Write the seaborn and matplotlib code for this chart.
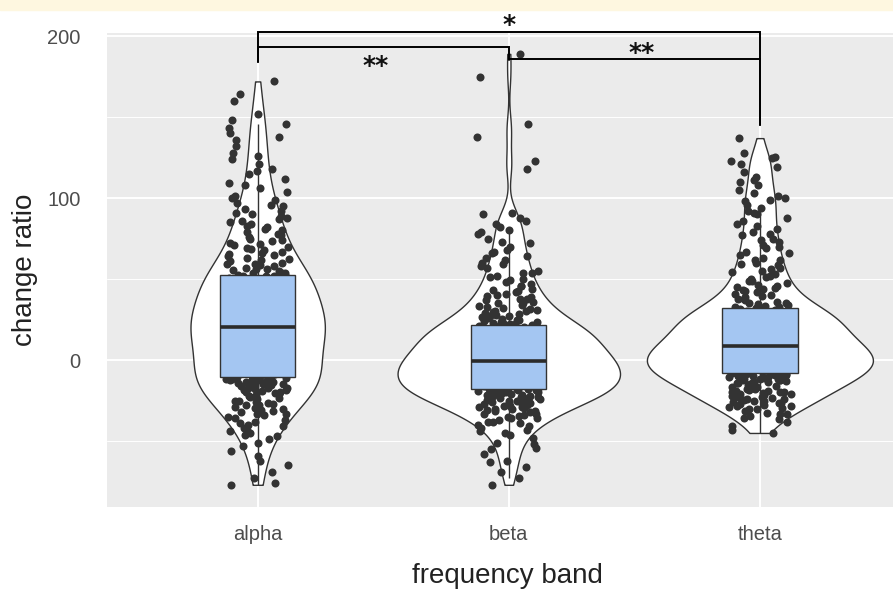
import numpy as np
import pandas as pd
import seaborn as sns
import matplotlib.pyplot as plt
from matplotlib.patches import Rectangle

# ---------------- data ----------------
bands = ["alpha", "beta", "theta"]

alpha_vals = [
    -77, -76, -73, -69, -65, -62, -59, -56, -53, -51,
    -49, -47, -45, -44, -42, -41, -39, -38, -37, -35,
    -34, -33, -32, -31, -30, -29, -28, -27, -26.5, -26,
    -25, -24, -23, -22.5, -22, -21, -20.5, -20, -19, -18.5,
    -18, -17.5, -17, -16.5, -16, -15.5, -15, -14.5, -14, -13.5,
    -13.2, -13, -12.7, -12.4, -12.1, -11.8, -11.5, -11.2, -10.9, -10.6,
    -11.0, -11.6, -12.3, -13.7, -14.8, -16.2, -17.3, -18.2, -19.6, -21.5,
    -23.5, -25.5, -27.5, -29.5, -31.5, -33.5, -36, -40, -43, -46,
    -10.4, -9.7, -9.1, -8.6, -7.9, -7.3, -6.8, -6.1, -5.5, -5.0,
    -4.3, -3.8, -3.1, -2.6, -2.0, -1.4, -0.9, -0.2, 0.4, 0.9,
    1.5, 2.0, 2.7, 3.2, 3.8, 4.4, 4.9, 5.6, 6.1, 6.7,
    7.2, 7.9, 8.4, 9.0, 9.5, 10.2, 10.7, 11.3, 11.8, 12.5,
    13.0, 13.6, 14.1, 14.8, 15.3, 15.9, 16.4, 17.1, 17.6, 18.2,
    18.7, 19.1, 19.4, 19.6, 19.8, 19.9, 20.0, 20.1, 20.2, 20.3,
    -9.4, -7.6, -5.7, -4.0, -2.3, -0.5, 1.2, 2.9, 4.6, 6.4,
    8.1, 9.8, 11.5, 13.3, 15.0, 16.7, 18.4, 19.2, 19.7, 20.25,
    20.5, 21.0, 21.6, 22.1, 22.7, 23.2, 23.8, 24.3, 24.9, 25.4,
    26.0, 26.5, 27.1, 27.6, 28.2, 28.7, 29.3, 29.8, 30.4, 30.9,
    31.5, 32.0, 32.6, 33.1, 33.7, 34.2, 34.8, 35.3, 35.9, 36.4,
    37.0, 37.6, 38.1, 38.7, 39.3, 39.8, 40.4, 41.0, 41.5, 42.1,
    42.7, 43.3, 43.8, 44.4, 45.0, 45.6, 46.1, 46.7, 47.3, 47.9,
    48.4, 49.0, 49.5, 50.0, 50.5, 50.9, 51.3, 51.7, 52.0, 52.3,
    21.3, 22.9, 24.6, 26.2, 27.9, 29.5, 31.2, 32.8, 34.5, 36.1,
    37.8, 39.5, 41.2, 42.9, 44.6, 46.4, 48.1, 49.8, 51.1, 52.2,
    53, 53.5, 54, 55, 55.5, 56, 57, 58, 58.5, 59,
    60, 61, 62, 63, 64, 65, 66, 67, 68, 69,
    70, 71, 72, 73.5, 75, 76, 77.5, 79, 80, 82,
    83, 85, 86, 88, 90, 91, 93, 95, 97, 99,
    101, 104, 106, 109, 112, 115, 118, 121, 124, 128,
    132, 136, 140, 143, 146, 148, 152, 160, 164, 172,
    53.8, 56.5, 59.5, 62.5, 65.5, 68.5, 71.5, 74, 78, 81,
    84, 87, 89, 92, 96, 100, 108, 117, 126, 138,
]

beta_vals = [
    -77, -73, -69, -66, -63, -62, -58, -55, -54, -51,
    -48, -46, -44, -43, -42, -41, -40, -39, -38, -37,
    -36, -35, -34.5, -34, -33, -32, -31.5, -31, -30.5, -30,
    -29.5, -29, -28.5, -28, -27.5, -27, -26.5, -26, -25.5, -25,
    -24.5, -24, -23.5, -23, -22.5, -22, -21.7, -21.4, -21, -20.6,
    -20.2, -19.8, -19.5, -19.2, -18.9, -18.6, -18.4, -18.2, -18, -17.9,
    -18.3, -18.7, -19.4, -20.0, -20.8, -21.6, -22.3, -23.2, -24.2, -25.2,
    -26.2, -27.2, -28.2, -29.2, -31.2, -33.5, -35.5, -38, -45, -52,
    -17.8, -17.5, -17.2, -16.9, -16.6, -16.3, -16.0, -15.7, -15.4, -15.1,
    -14.8, -14.5, -14.2, -13.9, -13.6, -13.3, -13.0, -12.7, -12.4, -12.1,
    -11.8, -11.5, -11.2, -10.9, -10.6, -10.3, -10.0, -9.7, -9.4, -9.1,
    -8.8, -8.5, -8.2, -7.9, -7.6, -7.3, -7.0, -6.7, -6.4, -6.1,
    -5.8, -5.5, -5.2, -4.9, -4.6, -4.3, -4.0, -3.7, -3.4, -3.1,
    -2.8, -2.5, -2.2, -1.9, -1.6, -1.4, -1.2, -1.0, -0.8, -0.7,
    -17.0, -16.1, -15.2, -14.3, -13.4, -12.5, -11.6, -10.7, -9.8, -8.9,
    -8.0, -7.1, -6.2, -5.3, -4.4, -3.5, -2.6, -1.7, -1.1, -0.9,
    -0.5, -0.1, 0.3, 0.6, 1.0, 1.4, 1.7, 2.1, 2.5, 2.8,
    3.2, 3.6, 3.9, 4.3, 4.7, 5.0, 5.4, 5.8, 6.1, 6.5,
    6.9, 7.2, 7.6, 8.0, 8.3, 8.7, 9.1, 9.4, 9.8, 10.2,
    10.5, 10.9, 11.3, 11.6, 12.0, 12.4, 12.7, 13.1, 13.5, 13.8,
    14.2, 14.6, 14.9, 15.3, 15.7, 16.0, 16.4, 16.8, 17.1, 17.5,
    17.9, 18.2, 18.6, 19.0, 19.3, 19.7, 20.1, 20.5, 21.0, 21.4,
    0.1, 1.2, 2.3, 3.4, 4.5, 5.6, 6.7, 7.8, 8.9, 10.0,
    11.1, 12.2, 13.3, 14.4, 15.5, 16.6, 17.7, 18.8, 19.9, 20.8,
    22, 22.5, 23, 23.5, 24, 25, 25.5, 26, 27, 27.5,
    28, 29, 30, 30.5, 31, 32, 33, 34, 35, 36,
    37, 38, 39, 40, 41, 42, 43, 44, 45.5, 47,
    48, 49.5, 51, 52, 53.5, 55, 57, 58, 60, 62,
    64, 66, 68, 70, 72, 75, 78, 80, 82, 84,
    86, 88, 90, 91, 118, 123, 138, 146, 175, 189,
    22.2, 23.8, 24.6, 26.5, 28.5, 29.5, 31.5, 33.5, 35.5, 37.5,
    39.5, 42.5, 46, 50, 54, 59, 63, 67, 73, 79,
]

theta_vals = [
    -45, -43, -41, -38, -36.5, -35.5, -34.5, -33.5, -32.5, -31.5,
    -30.5, -29.5, -29, -28.5, -28, -27, -26.5, -26, -25.5, -25,
    -24.5, -24, -23.5, -23, -22.5, -22, -21.5, -21, -20.5, -20,
    -19.5, -19, -18.5, -18, -17.5, -17, -16.5, -16, -15.5, -15,
    -14.6, -14.2, -13.8, -13.4, -13, -12.6, -12.2, -11.8, -11.4, -11,
    -10.7, -10.4, -10.1, -9.8, -9.5, -9.2, -8.9, -8.6, -8.3, -8.05,
    -8.2, -8.8, -9.6, -10.6, -11.6, -12.4, -13.6, -14.4, -15.8, -16.8,
    -17.8, -18.8, -19.8, -21.2, -22.8, -24.2, -26.2, -28.2, -30, -33,
    -7.9, -7.6, -7.3, -7.0, -6.8, -6.5, -6.2, -5.9, -5.6, -5.4,
    -5.1, -4.8, -4.5, -4.2, -4.0, -3.7, -3.4, -3.1, -2.8, -2.6,
    -2.3, -2.0, -1.7, -1.4, -1.2, -0.9, -0.6, -0.3, 0.0, 0.2,
    0.5, 0.8, 1.1, 1.4, 1.6, 1.9, 2.2, 2.5, 2.8, 3.0,
    3.3, 3.6, 3.9, 4.2, 4.4, 4.7, 5.0, 5.3, 5.6, 5.8,
    6.1, 6.4, 6.7, 7.0, 7.2, 7.5, 7.8, 8.1, 8.3, 8.5,
    -7.1, -6.3, -5.5, -4.7, -3.9, -3.1, -2.3, -1.5, -0.7, 0.1,
    0.9, 1.7, 2.5, 3.3, 4.1, 4.9, 5.7, 6.5, 7.3, 8.0,
    8.7, 9.1, 9.5, 9.9, 10.2, 10.6, 11.0, 11.4, 11.8, 12.2,
    12.6, 13.0, 13.4, 13.7, 14.1, 14.5, 14.9, 15.3, 15.7, 16.1,
    16.5, 16.9, 17.3, 17.6, 18.0, 18.4, 18.8, 19.2, 19.6, 20.0,
    20.4, 20.8, 21.2, 21.5, 21.9, 22.3, 22.7, 23.1, 23.5, 23.9,
    24.3, 24.7, 25.1, 25.4, 25.8, 26.2, 26.6, 27.0, 27.4, 27.8,
    28.2, 28.6, 29.0, 29.3, 29.7, 30.1, 30.5, 30.9, 31.4, 31.9,
    9.3, 10.4, 11.6, 12.8, 13.9, 15.1, 16.3, 17.4, 18.6, 19.8,
    20.9, 22.1, 23.3, 24.4, 25.6, 26.8, 27.9, 29.1, 30.3, 31.6,
    32.5, 33, 34, 34.5, 35, 36, 37, 38, 39, 40,
    41, 42, 43, 44, 45, 46, 47.5, 49, 50, 51.5,
    53, 54.5, 56, 57, 58.5, 60, 61.5, 63, 65, 67,
    69, 71, 73, 75, 77, 79, 81, 83, 86, 88,
    90, 92, 94, 96, 98, 99, 101, 103, 105, 108,
    111, 113, 116, 119, 121, 123, 125, 125.5, 128, 137,
    33.5, 35.5, 37.5, 39.5, 42.5, 44.5, 46.5, 48.5, 52, 55,
    59, 62, 66, 70, 74, 78, 84, 91, 100, 110,
]

# significance brackets: (left, right, top, left tip end, right tip end)
brackets = [(0, 1, 193.5, 184, 185), (1, 2, 186, 186, 145), (0, 2, 202.5, 184, 145)]
sig_labels = ["**", "**", "*"]
label_pos = [(0.47, 177.5), (1.53, 185.0), (1.0, 202.8)]

df = pd.DataFrame({
    "band": ["alpha"] * len(alpha_vals) + ["beta"] * len(beta_vals) + ["theta"] * len(theta_vals),
    "change": alpha_vals + beta_vals + theta_vals,
})


def nrd0(kde):
    # R's default bandwidth (bw.nrd0), like ggplot's geom_violin
    x = kde.dataset[0]
    sd = x.std(ddof=1)
    q75, q25 = np.percentile(x, [75, 25])
    h = 0.9 * min(sd, (q75 - q25) / 1.34) * len(x) ** -0.2
    return h / sd


sns.set_theme(style="darkgrid", rc={"axes.facecolor": "#EBEBEB"})
plt.rcParams["font.family"] = ["Liberation Sans", "DejaVu Sans"]

fig, ax = plt.subplots(figsize=(8.93, 5.89), dpi=100)
fig.subplots_adjust(left=107 / 893, right=1.0, top=1 - 32.5 / 589, bottom=1 - 507 / 589)
fig.patches.append(Rectangle((0, 1 - 10 / 589), 1, 10 / 589, transform=fig.transFigure,
                             color="#FEF7E0", zorder=0))

np.random.seed(7)
sns.violinplot(data=df, x="band", y="change", order=bands, color="white", saturation=1,
               linecolor="#333333", linewidth=1, inner=None, cut=0, width=0.9,
               density_norm="area", bw_method=nrd0, gridsize=512, ax=ax)
sns.stripplot(data=df, x="band", y="change", order=bands, color="#333333", size=5.8,
              jitter=0.125, linewidth=0, zorder=2, ax=ax)
sns.boxplot(data=df, x="band", y="change", order=bands, color="#A4C6F2", saturation=1,
            linecolor="#333333", linewidth=1, width=0.3, showcaps=False, showfliers=False,
            boxprops=dict(zorder=3), whiskerprops=dict(zorder=3),
            medianprops=dict(linewidth=2.6, color="#2B2B2B", zorder=4), ax=ax)

for (x1, x2, top, t1, t2), lab, (lx, ly) in zip(brackets, sig_labels, label_pos):
    ax.plot([x1, x1, x2, x2], [t1, top, top, t2], color="black", lw=1.4,
            clip_on=False, zorder=5, solid_joinstyle="miter")
    ax.text(lx, ly, lab, ha="center", va="baseline", fontsize=18, family="DejaVu Sans",
            fontweight="bold", color="#111111", clip_on=False, zorder=6)

ax.set_xlim(-0.6, 2.53)
ax.set_ylim(-90.7, 202.2)
ax.set_yticks([0, 100, 200])
ax.set_yticks([-50, 50, 150], minor=True)
ax.grid(True, which="major", axis="both", color="white", linewidth=1.4)
ax.grid(True, which="minor", axis="y", color="white", linewidth=0.7)
ax.set_axisbelow(True)
for s in ax.spines.values():
    s.set_visible(False)

ax.tick_params(axis="both", which="major", length=4, width=1.1, color="#333333",
               labelcolor="#4D4D4D", labelsize=14.5)
ax.tick_params(axis="y", which="major", pad=15)
ax.tick_params(axis="x", which="major", pad=9)
ax.tick_params(axis="y", which="minor", length=0)

ax.set_xlabel("frequency band", fontsize=20, color="#222222")
ax.set_ylabel("change ratio", fontsize=20, color="#222222")
ax.xaxis.set_label_coords(0.51, -0.118)
ax.yaxis.set_label_coords(-0.088, 0.5)

fig.savefig("out.png", dpi=100)
